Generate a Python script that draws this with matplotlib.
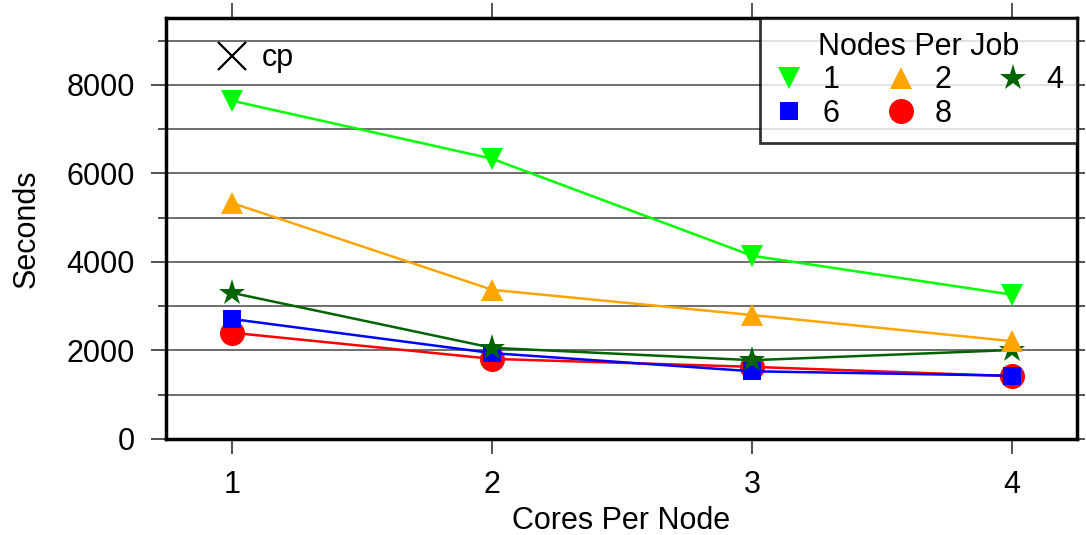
import matplotlib
matplotlib.use("Agg")
import matplotlib.pyplot as plt
from matplotlib.lines import Line2D

plt.rcParams['font.family'] = ['Liberation Sans', 'DejaVu Sans']

cores = [1, 2, 3, 4]
nodes1 = [7640, 6330, 4140, 3260]
nodes2 = [5330, 3370, 2800, 2210]
nodes4 = [3300, 2060, 1780, 2010]
nodes6 = [2710, 1940, 1530, 1430]
nodes8 = [2400, 1810, 1630, 1420]
yticks = [0, 2000, 4000, 6000, 8000]

series = [
    ("1", nodes1, "#00ff00", "v", 16, 7),
    ("2", nodes2, "#ffa500", "^", 16, 6),
    ("4", nodes4, "#006400", "*", 20, 5),
    ("6", nodes6, "#0000ff", "s", 13, 4),
    ("8", nodes8, "#ff0000", "o", 18, 3),
]

FS = 22
PX = 72 / 100  # points per pixel at dpi 100

fig = plt.figure(figsize=(10.86, 5.35), dpi=100)
ax = fig.add_axes([166/1086, 1 - 439/535, (1077-166)/1086, (439-18)/535])

handles = {}
for name, vals, col, mk, ms, z in series:
    h, = ax.plot(cores, vals, color=col, marker=mk, markersize=ms, linewidth=1.8,
                 markeredgewidth=0, label=name, zorder=z)
    handles[name] = h

ax.set_xlim(0.745, 4.25)
ax.set_ylim(0, 9510)
ax.set_xticks(cores)
ax.set_yticks(yticks)
ax.set_yticks(range(1000, 9001, 2000), minor=True)
for g in range(1000, 9001, 1000):
    ax.axhline(g, color='#555555', linewidth=1.2, zorder=1)

for s in ax.spines.values():
    s.set_linewidth(2.5)
ax.tick_params(axis='both', which='major', direction='out', labelsize=FS,
               width=1.2, length=15 * PX, pad=16 * PX, color='#333333')
ax.tick_params(axis='y', which='minor', direction='out', width=1.2,
               length=8 * PX, color='#333333')
ax.tick_params(axis='x', top=True)
ax.tick_params(axis='y', right=True, which='both')
for t in ax.yaxis.get_major_ticks():
    t.tick2line.set_markersize(8 * PX)

ax.set_xlabel("Cores Per Node", fontsize=FS, labelpad=4)
ax.set_ylabel("Seconds", fontsize=FS, labelpad=18)

order = ["1", "6", "2", "8", "4"]
leg = ax.legend(handles=[handles[k] for k in order], labels=order,
                title="Nodes Per Job", ncol=3, loc='upper right',
                fontsize=FS, title_fontsize=FS, frameon=True, fancybox=False,
                borderaxespad=0.0, handlelength=1.0, handletextpad=0.6,
                columnspacing=1.5, labelspacing=0.12, borderpad=0.45)
leg.get_frame().set_edgecolor('black')
leg.get_frame().set_linewidth(2.0)
leg.set_zorder(10)
for h in leg.legend_handles:
    h.set_linestyle('None')
ax.add_artist(leg)

cp = Line2D([], [], color='black', marker='x', markersize=20, linestyle='None',
            markeredgewidth=1.6)
leg2 = ax.legend(handles=[cp], labels=["cp"], loc='upper left', fontsize=FS,
                 frameon=False, bbox_to_anchor=(0.025, 1.005), handlelength=1.0,
                 handletextpad=0.5)

fig.savefig("out.png", dpi=100)
